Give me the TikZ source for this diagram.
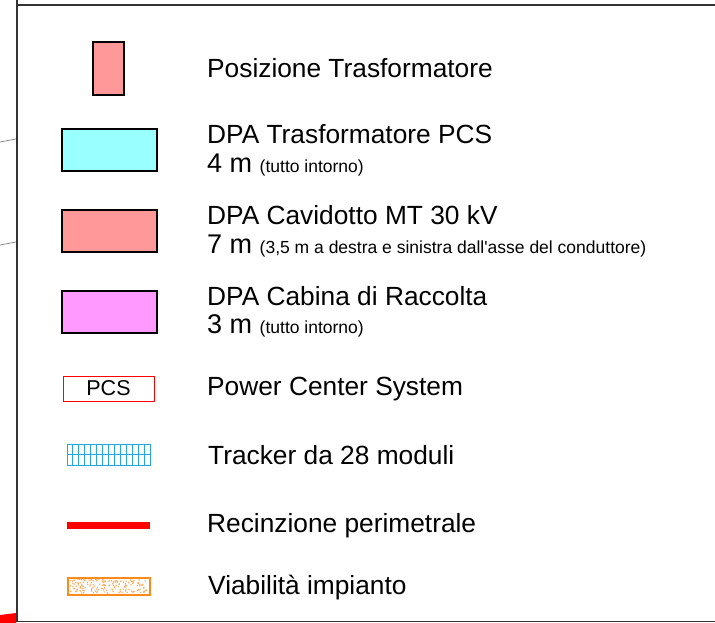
\documentclass[tikz,border=0pt]{standalone}
\usepackage{fontspec}
\setmainfont{Liberation Sans}[Ligatures=TeXOff]
\usepackage{xcolor}
\usetikzlibrary{positioning,calc}

\definecolor{trafopink}{HTML}{FF9999}
\definecolor{pcscyan}{HTML}{99FFFF}
\definecolor{cabmagenta}{HTML}{FF99FF}
\definecolor{trkblue}{HTML}{22A8DF}
\definecolor{viaorange}{HTML}{FF8A1A}
\definecolor{framegray}{HTML}{333333}

\newcommand{\bigtxt}{\fontsize{26.3}{30}\selectfont}
\newcommand{\mtxt}{\fontsize{27}{30}\selectfont}
\newcommand{\smalltxt}{\fontsize{17.5}{20}\selectfont}

\begin{document}
\begin{tikzpicture}[x=1pt,y=-1pt,
  symbox/.style={draw=black,line width=1.1pt,inner sep=0,outer sep=0},
  lbl/.style={anchor=base west,inner sep=0,font=\bigtxt}]
  \useasboundingbox (0,0) rectangle (715,623);
  % frame of the legend
  \draw[framegray,line width=1.8pt] (17,0) -- (17,621.5) -- (715,621.5);
  \draw[framegray,line width=1.8pt] (17,4.7) -- (715,4.7);
  % bits of the plan left of the frame
  \draw[gray,line width=0.7pt] (0,142) -- (16,139);
  \draw[gray,line width=0.7pt] (0,245) -- (16,242);
  \fill[red] (0,615) -- (16,613) -- (16,623) -- (0,623) -- cycle;

  % symbols
  \node[symbox,fill=trafopink,minimum width=31,minimum height=53] (trafo) at (108.5,68.5) {};
  \node[symbox,fill=pcscyan,minimum width=95,minimum height=42] (dpapcs) at (109.5,150) {};
  \node[symbox,fill=trafopink,minimum width=95,minimum height=42] (dpamt) at (109.5,231) {};
  \node[symbox,fill=cabmagenta,minimum width=95,minimum height=42] (dpacab) at (109.5,312) {};
  \node[draw=red,line width=1pt,inner sep=0,minimum width=91,minimum height=25,
        font=\fontsize{21.5}{24}\selectfont] (pcs) at (108.5,388.5) {PCS};

  % tracker, 2 x 14 modules
  \node[draw=trkblue,line width=1pt,inner sep=0,minimum width=83,minimum height=21] (trk) at (108.5,454.5) {};
  \foreach \i in {1,...,13}
    \draw[trkblue,line width=0.9pt] ({67+\i*83/14},444) -- ({67+\i*83/14},465);
  \draw[trkblue,line width=1.4pt] (108.5,444) -- (108.5,465);
  \draw[trkblue,line width=1.2pt] (67,454.5) -- (151,454.5);

  % fence
  \coordinate (fenceA) at (67,525.5);
  \coordinate (fenceB) at (150,525.5);
  \draw[red,line width=6.5pt] (fenceA) -- (fenceB);

  % road
  \node[draw=viaorange,line width=2pt,inner sep=0,minimum width=82,minimum height=17] (road) at (108.5,586) {};
  \pgfmathsetseed{7}
  \foreach \k in {1,...,170}
    \fill[viaorange!75] ({70+rnd*77},{579+rnd*14}) circle (0.8);

  % labels
  \node[lbl] (ltrafo) at (207,78) {Posizione Trasformatore};
  \node[lbl] (lpcs) at (207,143) {DPA Trasformatore PCS};
  \node[lbl] (lpcsd) at (207,172) {\mtxt 4 m \smalltxt(tutto intorno)};
  \node[lbl] (lmt) at (207,224) {DPA Cavidotto MT 30 kV};
  \node[lbl] (lmtd) at (207,253) {\mtxt 7 m \smalltxt(3,5 m a destra e sinistra dall'asse del conduttore)};
  \node[lbl] (lcab) at (207,305) {DPA Cabina di Raccolta};
  \node[lbl] (lcabd) at (207,333) {\mtxt 3 m \smalltxt(tutto intorno)};
  \node[lbl] (lpcsys) at (207,395) {Power Center System};
  \node[lbl] (ltrk) at (208,464) {Tracker da 28 moduli};
  \node[lbl] (lfence) at (207,532) {Recinzione perimetrale};
  \node[lbl] (lroad) at (208,594) {Viabilità impianto};
\end{tikzpicture}
\end{document}
